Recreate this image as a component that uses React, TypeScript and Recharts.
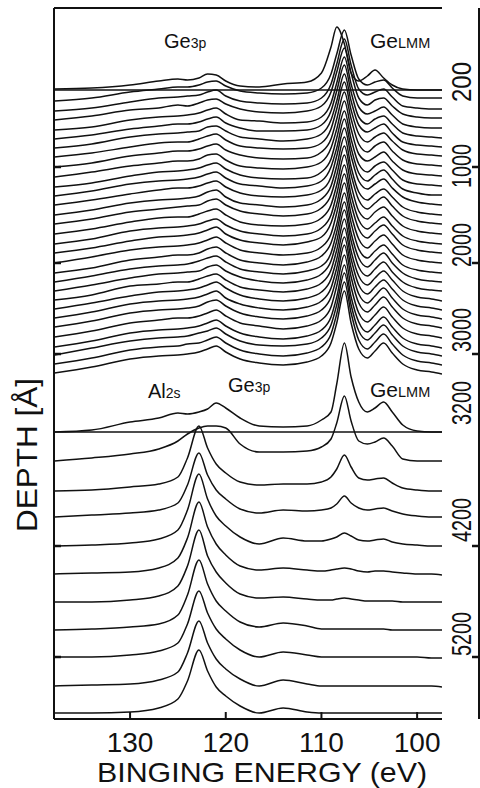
import React from 'react';
import { LineChart, Line, XAxis, YAxis, ReferenceLine } from 'recharts';

// Binding energy grid (eV) shared by every spectrum
const energy = [137.9, 134, 130, 127, 125, 124, 122.8, 121.9, 121, 120, 118.5, 116.5, 114, 111.5, 110, 109, 108.4, 107.6, 106.9, 106.1, 105.2, 104.4, 103.5, 102.6, 101.5, 100, 98.5, 97.4];

// Spectrum at 200 A (above the first base line)
const spec200 = [1, 2, 5, 9, 11, 10, 12, 16, 15, 9, 4, 3, 6, 8, 17, 43, 63, 46, 17, 9, 14, 20, 12, 5, 1, 0, 0, 0];

// Upper stack (Ge rich layer), top to bottom
const upperSpectra = [
  [0, 3, 9, 12, 14, 14, 16, 19, 20, 15, 10, 8, 7, 8, 13, 27, 47, 71, 46, 22, 16, 19, 21, 13, 5, 3, 3, 3],
  [0, 3, 9, 13, 14, 15, 16, 19, 21, 15, 10, 8, 7, 8, 13, 27, 47, 72, 46, 22, 16, 19, 22, 14, 5, 3, 2, 2],
  [0, 4, 10, 12, 15, 14, 17, 20, 21, 16, 11, 8, 7, 9, 14, 28, 48, 72, 47, 22, 15, 20, 22, 14, 6, 3, 2, 2],
  [0, 3, 10, 13, 14, 15, 17, 20, 22, 16, 10, 9, 7, 8, 13, 27, 47, 73, 46, 23, 16, 19, 23, 15, 6, 3, 2, 2],
  [0, 4, 10, 13, 15, 15, 17, 20, 22, 16, 11, 8, 8, 9, 14, 28, 48, 74, 47, 22, 15, 20, 23, 15, 6, 3, 2, 1],
  [0, 4, 11, 14, 15, 16, 17, 21, 22, 17, 11, 9, 7, 9, 14, 28, 47, 74, 47, 23, 16, 20, 24, 15, 6, 3, 2, 1],
  [0, 4, 10, 14, 15, 15, 18, 21, 23, 17, 11, 9, 8, 9, 14, 28, 48, 75, 47, 23, 15, 20, 24, 16, 7, 3, 2, 1],
  [0, 4, 11, 14, 16, 16, 18, 21, 23, 17, 12, 9, 8, 9, 15, 28, 48, 75, 48, 23, 15, 21, 25, 16, 7, 3, 2, 1],
  [0, 5, 11, 14, 16, 16, 18, 22, 23, 17, 11, 9, 8, 10, 15, 29, 48, 76, 48, 23, 16, 20, 25, 16, 7, 3, 2, 1],
  [0, 4, 11, 15, 16, 17, 19, 22, 24, 18, 12, 9, 8, 9, 15, 28, 49, 76, 48, 23, 15, 21, 25, 17, 7, 3, 2, 1],
  [0, 5, 12, 15, 16, 17, 19, 22, 24, 18, 12, 10, 8, 10, 15, 29, 48, 77, 48, 23, 15, 21, 26, 17, 7, 3, 1, 1],
  [0, 5, 11, 15, 17, 17, 19, 22, 24, 18, 12, 9, 8, 10, 15, 28, 49, 77, 49, 24, 16, 21, 26, 17, 8, 3, 1, 0],
  [0, 5, 12, 15, 16, 17, 19, 23, 25, 18, 12, 10, 8, 10, 16, 29, 49, 78, 48, 23, 15, 21, 26, 18, 8, 3, 1, 0],
  [0, 5, 12, 15, 17, 18, 19, 23, 25, 19, 13, 10, 8, 10, 16, 29, 49, 78, 49, 24, 15, 21, 27, 18, 8, 3, 1, 0],
  [0, 5, 12, 16, 17, 17, 20, 23, 25, 19, 12, 9, 8, 10, 16, 29, 49, 79, 49, 23, 15, 22, 27, 18, 8, 3, 1, 0],
  [0, 5, 13, 16, 17, 18, 20, 23, 25, 19, 13, 10, 8, 10, 16, 29, 50, 79, 49, 24, 15, 21, 27, 18, 8, 3, 1, 0],
  [0, 5, 12, 16, 17, 18, 20, 23, 26, 19, 13, 10, 8, 11, 16, 30, 49, 79, 49, 24, 15, 22, 28, 19, 8, 3, 1, 0],
  [0, 6, 13, 16, 17, 18, 20, 23, 26, 20, 13, 10, 8, 10, 16, 29, 50, 80, 49, 24, 15, 22, 28, 19, 8, 3, 1, 0],
  [0, 5, 13, 16, 18, 18, 20, 24, 26, 20, 13, 10, 8, 11, 17, 30, 49, 80, 50, 24, 15, 22, 28, 19, 8, 3, 1, 0],
  [0, 6, 13, 16, 17, 18, 21, 24, 26, 20, 13, 10, 8, 11, 16, 29, 50, 80, 49, 24, 15, 22, 29, 19, 9, 3, 1, 0],
  [0, 6, 13, 17, 18, 19, 20, 24, 26, 20, 14, 10, 8, 11, 17, 30, 50, 81, 50, 24, 15, 22, 29, 19, 9, 3, 1, 0],
  [0, 5, 14, 16, 18, 18, 21, 24, 26, 20, 13, 10, 8, 11, 17, 30, 50, 81, 49, 24, 15, 22, 29, 20, 9, 3, 1, -1],
  [0, 6, 13, 17, 18, 19, 21, 24, 27, 21, 14, 10, 8, 11, 17, 30, 50, 81, 50, 24, 15, 22, 29, 20, 9, 3, 1, -1],
  [0, 6, 14, 17, 18, 19, 21, 24, 27, 20, 14, 10, 8, 11, 17, 30, 50, 81, 50, 24, 15, 22, 30, 20, 9, 3, 1, -1],
  [0, 6, 14, 17, 18, 19, 21, 25, 27, 21, 14, 10, 8, 11, 17, 30, 50, 82, 50, 24, 15, 22, 30, 20, 9, 3, 1, -1],
  [0, 6, 14, 17, 19, 19, 21, 24, 27, 21, 14, 11, 8, 11, 17, 30, 51, 82, 50, 24, 15, 22, 30, 20, 9, 3, 1, -1],
  [0, 6, 14, 17, 18, 19, 21, 24, 27, 21, 14, 10, 8, 11, 17, 30, 50, 82, 50, 25, 15, 22, 30, 20, 9, 3, 1, -1],
  [0, 7, 14, 17, 18, 19, 22, 24, 27, 21, 14, 10, 9, 11, 17, 30, 50, 82, 50, 24, 15, 22, 30, 20, 9, 3, 1, -1],
  [0, 6, 14, 17, 18, 20, 21, 24, 27, 21, 14, 10, 8, 11, 17, 30, 50, 82, 51, 24, 15, 22, 30, 20, 9, 3, 1, -1],
  [0, 6, 14, 17, 18, 19, 21, 24, 27, 21, 14, 10, 8, 11, 17, 30, 50, 82, 50, 24, 15, 22, 30, 20, 9, 3, 1, -1],
];

// Spectrum at 3200 A (interface, labelled Al2s / Ge3p / GeLMM)
const spec3200 = [0, 2, 10, 14, 19, 18, 20, 23, 29, 24, 14, 6, 5, 6, 12, 20, 48, 89, 55, 30, 20, 24, 30, 20, 7, 1, 0, 0];

// Lower stack (Al rich region), top to bottom
const lowerSpectra = [
  [0, 3, 7, 12, 20, 27, 33, 35, 35, 33, 17, 9, 9, 10, 14, 22, 38, 65, 40, 20, 17, 19, 23, 15, 2, 0, 0, 0],
  [0, 1, 4, 7, 14, 33, 65, 43, 27, 18, 9, 6, 7, 7, 9, 14, 22, 36, 24, 13, 11, 12, 13, 8, 3, 1, 0, 0],
  [0, 2, 4, 7, 14, 32, 64, 42, 27, 18, 8, 4, 7, 6, 7, 9, 13, 21, 14, 9, 7, 8, 9, 6, 3, 1, 0, 0],
  [0, 1, 3, 7, 16, 36, 72, 47, 30, 20, 9, 2, 8, 5, 5, 7, 9, 13, 10, 6, 5, 6, 7, 4, 2, 1, 0, 0],
  [0, 1, 2, 6, 16, 36, 72, 47, 30, 19, 8, 4, 6, 4, 3, 4, 5, 6, 5, 3, 2, 3, 3, 2, 1, 0, 0, -1],
  [0, 0, 2, 6, 16, 36, 72, 46, 30, 19, 8, 4, 5, 3, 2, 2, 3, 4, 3, 2, 1, 1, 1, 1, 0, 0, 0, 0],
  [0, 1, 3, 6, 15, 35, 70, 46, 29, 19, 8, 3, 7, 4, 1, 1, 1, 1, 1, 1, 1, 1, 1, 0, 0, 0, 0, 0],
  [0, 0, 2, 6, 14, 33, 66, 44, 28, 18, 7, 0, 5, 2, 0, 0, 0, 0, 0, 0, 0, 0, 0, 0, 0, 0, -1, -1],
  [0, 1, 2, 6, 14, 33, 65, 43, 27, 17, 7, 0, 6, 2, 0, 0, 0, 0, 0, 0, 0, 0, 0, 0, 0, 0, 0, -1],
  [0, 0, 1, 5, 14, 32, 63, 42, 26, 17, 7, 0, 5, 1, 0, 0, 0, 0, 0, 0, 0, 0, 0, 0, 0, 0, 0, 0],
];

// Waterfall offsets (intensity units) for each stacked spectrum
const offset200 = 629;
const upperOffsets = [618, 608, 599, 589, 580, 571, 562, 552, 542, 532, 523, 514, 504, 495, 485, 475, 466, 456, 446, 437, 428, 419, 410, 401, 392, 382, 372, 364, 355, 346];
const offset3200 = 287;
const lowerOffsets = [258, 228, 202, 173, 145, 117, 89, 62, 33, 6];

// Axis ticks
const energyTicks = [130, 120, 110, 100];
const depthLabels = ['200', '1000', '2000', '3000', '3200', '4200', '5200'];
const depthLevels = [637, 553, 474, 389, 316, 199, 85];
const frameTicks = [552, 456, 365, 173, 62];

const allSpectra = [spec200, ...upperSpectra, spec3200, ...lowerSpectra];
const allOffsets = [offset200, ...upperOffsets, offset3200, ...lowerOffsets];

const data = energy.map((e, i) => {
  const row: Record<string, number> = { e };
  allSpectra.forEach((s, k) => {
    row['s' + k] = allOffsets[k] + s[i];
  });
  return row;
});

const FONT = '"Liberation Sans", Arial, sans-serif';
const INK = '#111';

const BottomTick = (props: any) => {
  const { x, y, payload } = props;
  return (
    <g>
      <line x1={x} y1={y} x2={x} y2={y - 7} stroke={INK} strokeWidth={2} />
      <text x={x} y={y + 33} textAnchor="middle" fontSize={28} fontFamily={FONT} fill={INK}>
        {payload.value}
      </text>
    </g>
  );
};

const TopTick = (props: any) => {
  const { x, y } = props;
  return <line x1={x} y1={y} x2={x} y2={y + 7} stroke={INK} strokeWidth={2} />;
};

const LeftTick = (props: any) => {
  const { x, y } = props;
  return <line x1={x} y1={y} x2={x + 7} y2={y} stroke={INK} strokeWidth={2.5} />;
};

const RightTick = (props: any) => {
  const { x, y } = props;
  return <line x1={x} y1={y} x2={x - 7} y2={y} stroke={INK} strokeWidth={2.5} />;
};

const DepthTick = (props: any) => {
  const { x, y, index } = props;
  const label = depthLabels[index] ?? '';
  const tx = x + 29;
  return (
    <text
      x={tx}
      y={y}
      transform={`rotate(-90, ${tx}, ${y})`}
      textAnchor="middle"
      fontSize={28}
      fontFamily={FONT}
      fill={INK}
      textLength={label.length === 3 ? 40 : 44}
      lengthAdjust="spacingAndGlyphs"
    >
      {label}
    </text>
  );
};

const axisLine = { stroke: INK, strokeWidth: 2 };
const xDomain: [number, number] = [97.4, 137.95];

export default function App() {
  return (
    <div style={{ position: 'absolute', left: 0, top: 0, width: 480, height: 788, background: '#fff' }}>
      <LineChart width={480} height={788} data={data} margin={{ top: 7, right: 0, bottom: 0, left: 0 }}>
        <XAxis
          dataKey="e"
          type="number"
          domain={xDomain}
          reversed
          allowDataOverflow
          ticks={energyTicks}
          interval={0}
          height={69}
          tickSize={0}
          tickMargin={0}
          tickLine={false}
          axisLine={axisLine}
          tick={<BottomTick />}
        />
        <XAxis
          xAxisId="top"
          orientation="top"
          type="number"
          domain={xDomain}
          reversed
          allowDataOverflow
          ticks={energyTicks}
          interval={0}
          height={1}
          tickSize={0}
          tickMargin={0}
          tickLine={false}
          axisLine={axisLine}
          tick={<TopTick />}
        />
        <YAxis
          type="number"
          domain={[0, 711]}
          allowDataOverflow
          ticks={frameTicks}
          interval={0}
          width={54}
          tickSize={0}
          tickMargin={0}
          tickLine={false}
          axisLine={axisLine}
          tick={<LeftTick />}
        />
        <YAxis
          yAxisId="frameRight"
          orientation="right"
          type="number"
          domain={[0, 711]}
          allowDataOverflow
          ticks={frameTicks}
          interval={0}
          width={1}
          tickSize={0}
          tickMargin={0}
          tickLine={false}
          axisLine={axisLine}
          tick={<RightTick />}
        />
        <YAxis
          yAxisId="depth"
          orientation="right"
          type="number"
          domain={[0, 711]}
          allowDataOverflow
          ticks={depthLevels}
          interval={0}
          width={37}
          tickSize={0}
          tickMargin={0}
          tickLine={false}
          axisLine={false}
          tick={<DepthTick />}
        />
        <ReferenceLine y={offset200} stroke={INK} strokeWidth={1.6} />
        <ReferenceLine y={offset3200} stroke={INK} strokeWidth={1.6} />
        {allSpectra.map((_, k) => (
          <Line
            key={k}
            dataKey={'s' + k}
            type="monotone"
            dot={false}
            stroke={INK}
            strokeWidth={1.5}
            isAnimationActive={false}
          />
        ))}
      </LineChart>
      <svg width={480} height={788} style={{ position: 'absolute', left: 0, top: 0, pointerEvents: 'none' }}>
        <g fontFamily={FONT} fill={INK}>
          <text x={164} y={48} fontSize={20}>
            Ge<tspan fontSize={14}>3p</tspan>
          </text>
          <text x={370} y={48} fontSize={21}>
            Ge<tspan fontSize={14.5}>LMM</tspan>
          </text>
          <text x={148} y={398} fontSize={20}>
            Al<tspan fontSize={14}>2s</tspan>
          </text>
          <text x={228} y={392} fontSize={20}>
            Ge<tspan fontSize={14}>3p</tspan>
          </text>
          <text x={370} y={397} fontSize={21}>
            Ge<tspan fontSize={14.5}>LMM</tspan>
          </text>
          <text
            x={37}
            y={455}
            transform="rotate(-90, 37, 455)"
            textAnchor="middle"
            fontSize={30}
            textLength={154}
            lengthAdjust="spacingAndGlyphs"
          >
            DEPTH [Å]
          </text>
          <text x={262} y={782} textAnchor="middle" fontSize={28} textLength={330} lengthAdjust="spacingAndGlyphs">
            BINGING ENERGY (eV)
          </text>
        </g>
      </svg>
    </div>
  );
}
